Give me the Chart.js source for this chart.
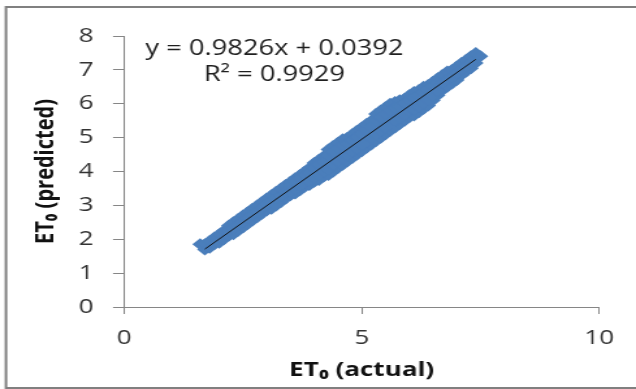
<!DOCTYPE html>
<html>
<head>
<meta charset="utf-8">
<script src="https://cdn.jsdelivr.net/npm/chart.js@4"></script>
<style>
  html, body { margin: 0; padding: 0; background: #fff; overflow: hidden; }
  /* the reference picture is stretched sideways, so the chart is too */
  #wrap { width: 489px; height: 389px; transform: scaleX(1.3006); transform-origin: 0 0; }
</style>
</head>
<body>
<div id="wrap"><canvas id="etChart"></canvas></div>
<script>
    var actualX = [1.6, 1.7, 1.7, 1.8, 1.8, 1.9, 1.9, 2.0, 2.0, 2.1, 2.1, 2.2, 2.2, 2.3, 2.3,
        2.4, 2.4, 2.5, 2.5, 2.6, 2.6, 2.7, 2.7, 2.8, 2.8, 2.9, 2.9, 3.0, 3.0, 3.1, 3.1,
        3.2, 3.2, 3.3, 3.3, 3.4, 3.4, 3.5, 3.5, 3.5, 3.6, 3.6, 3.6, 3.7, 3.7, 3.7,
        3.8, 3.8, 3.8, 3.9, 3.9, 3.9, 4.0, 4.0, 4.0, 4.1, 4.1, 4.1, 4.2, 4.2, 4.2,
        4.3, 4.3, 4.3, 4.4, 4.4, 4.4, 4.5, 4.5, 4.5, 4.6, 4.6, 4.6, 4.7, 4.7, 4.7,
        4.8, 4.8, 4.8, 4.9, 4.9, 4.9, 5.0, 5.0, 5.0, 5.1, 5.1, 5.1, 5.2, 5.2, 5.2,
        5.3, 5.3, 5.3, 5.4, 5.4, 5.4, 5.5, 5.5, 5.5, 5.6, 5.6, 5.6, 5.7, 5.7, 5.7,
        5.8, 5.8, 5.8, 5.9, 5.9, 5.9, 6.0, 6.0, 6.0, 6.1, 6.1, 6.1, 6.2, 6.2, 6.2,
        6.3, 6.3, 6.3, 6.4, 6.4, 6.4, 6.5, 6.5, 6.5, 6.6, 6.6, 6.6,
        6.7, 6.7, 6.8, 6.8, 6.9, 6.9, 7.0, 7.0, 7.1, 7.1, 7.2, 7.2, 7.3, 7.3, 7.4, 7.4, 7.5,
        2.2, 2.3, 2.4, 2.5, 2.6, 2.7, 2.8, 2.9, 3.0, 3.1, 3.2, 3.3, 3.4,
        3.5, 3.5, 3.6, 3.6, 3.7, 3.7, 3.8, 3.8, 3.9, 3.9, 4.0, 4.0, 4.1, 4.1, 4.2, 4.2,
        4.3, 4.3, 4.4, 4.4, 4.5, 4.5, 4.6, 4.6, 4.7, 4.7, 4.8, 4.8, 4.9, 4.9, 5.0, 5.0,
        5.1, 5.1, 5.2, 5.2, 5.3, 5.3, 5.4, 5.4, 5.5, 5.5, 5.6, 5.6, 5.7, 5.7, 5.8, 5.8,
        5.9, 5.9, 6.0, 6.0, 6.1, 6.1, 6.2, 6.2, 6.3, 6.3, 6.4, 6.4, 6.5, 6.5, 6.6, 6.6,
        6.7, 6.8, 6.9, 7.0, 7.1, 7.2, 7.3];
    var predictedY = [1.85, 1.70, 1.85, 1.75, 1.95, 1.85, 2.05, 1.90, 2.15, 2.00, 2.25, 2.10, 2.40, 2.15, 2.50,
        2.25, 2.60, 2.35, 2.70, 2.45, 2.80, 2.55, 2.90, 2.65, 3.00, 2.75, 3.10, 2.85, 3.20, 2.90, 3.30,
        3.00, 3.40, 3.10, 3.50, 3.20, 3.60, 3.30, 3.70, 3.50, 3.35, 3.80, 3.60, 3.45, 3.90, 3.70,
        3.55, 4.00, 3.80, 3.60, 4.10, 3.85, 3.70, 4.25, 3.95, 3.75, 4.35, 4.05, 3.85, 4.45, 4.15,
        3.90, 4.65, 4.25, 4.00, 4.75, 4.40, 4.10, 4.85, 4.50, 4.20, 4.95, 4.60, 4.30, 5.00, 4.65,
        4.40, 5.10, 4.75, 4.50, 5.20, 4.85, 4.60, 5.30, 4.95, 4.70, 5.40, 5.05, 4.80, 5.50, 5.15,
        4.90, 5.70, 5.30, 5.00, 5.80, 5.40, 5.10, 5.90, 5.50, 5.20, 6.00, 5.60, 5.30, 6.05, 5.70,
        5.40, 6.10, 5.75, 5.50, 6.15, 5.85, 5.60, 6.25, 5.95, 5.65, 6.35, 6.00, 5.75, 6.40, 6.10,
        5.85, 6.50, 6.20, 5.95, 6.55, 6.30, 6.10, 6.65, 6.40, 6.25, 6.75, 6.50,
        6.40, 6.85, 6.50, 6.95, 6.60, 7.00, 6.70, 7.10, 6.85, 7.20, 6.95, 7.30, 7.05, 7.40, 7.20, 7.50, 7.40,
        2.25, 2.32, 2.42, 2.52, 2.62, 2.72, 2.82, 2.92, 3.02, 3.10, 3.20, 3.30, 3.40,
        3.40, 3.60, 3.48, 3.70, 3.58, 3.80, 3.68, 3.90, 3.72, 3.98, 3.82, 4.10, 3.90, 4.20, 4.00, 4.30,
        4.08, 4.45, 4.20, 4.58, 4.30, 4.68, 4.40, 4.78, 4.48, 4.82, 4.58, 4.92, 4.68, 5.02, 4.78, 5.12,
        4.88, 5.22, 4.98, 5.32, 5.10, 5.50, 5.20, 5.60, 5.30, 5.70, 5.40, 5.80, 5.50, 5.88, 5.58, 5.92,
        5.68, 6.00, 5.78, 6.10, 5.82, 6.18, 5.92, 6.25, 6.02, 6.35, 6.12, 6.42, 6.25, 6.52, 6.38, 6.62,
        6.62, 6.72, 6.80, 6.90, 7.02, 7.12, 7.22];

    // linear trendline end points
    var trendX = [1.7, 7.4];
    var trendY = [1.71, 7.31];
    var equationLines = ['y = 0.9826x + 0.0392', 'R\u00b2 = 0.9929'];

    var xTicks = [0, 5, 10];
    var yTicks = [0, 1, 2, 3, 4, 5, 6, 7, 8];

    var points = actualX.map(function (x, i) { return { x: x, y: predictedY[i] }; });
    var trend = trendX.map(function (x, i) { return { x: x, y: trendY[i] }; });

    var frame = {
        id: 'frame',
        beforeDraw: function (chart) {
            var c = chart.ctx;
            c.save();
            c.fillStyle = '#fff';
            c.fillRect(0, 0, chart.width, chart.height);
            c.strokeStyle = '#808080';
            c.lineWidth = 2;
            c.strokeRect(4.6, 7, 520, 381);
            c.restore();
        },
        afterDraw: function (chart) {
            var c = chart.ctx;
            c.save();
            c.font = '21px "Open Sans"';
            c.fillStyle = '#1f1f1f';
            c.textAlign = 'center';
            c.textBaseline = 'middle';
            c.fillText(equationLines[0], 211, 49);
            c.fillText(equationLines[1], 211, 75);
            c.restore();
        }
    };

    var ctx = document.getElementById('etChart').getContext('2d');
    var etChart = new Chart(ctx, {
        type: 'scatter',
        data: {
            datasets: [{
                data: points,
                order: 2,
                pointStyle: 'rectRot',
                pointRadius: 6,
                backgroundColor: '#4a7ebb',
                borderColor: '#4a7ebb',
                borderWidth: 0
            }, {
                type: 'line',
                data: trend,
                order: 1,
                borderColor: '#111',
                borderWidth: 1,
                pointRadius: 0,
                fill: false
            }]
        },
        options: {
            responsive: true,
            maintainAspectRatio: false,
            animation: false,
            events: [],
            layout: { padding: { left: 0, right: 28.2, top: 36, bottom: 0 } },
            plugins: { legend: { display: false }, tooltip: { enabled: false } },
            scales: {
                x: {
                    type: 'linear',
                    min: 0,
                    max: 10,
                    afterBuildTicks: function (s) { s.ticks = xTicks.map(function (v) { return { value: v }; }); },
                    afterFit: function (s) { s.height = 82; },
                    grid: { drawOnChartArea: false, tickLength: 7, color: '#868686' },
                    border: { color: '#868686', width: 1 },
                    ticks: { padding: 12, color: '#333', font: { family: 'Open Sans', size: 20 } },
                    title: {
                        display: true,
                        text: 'ET\u2080 (actual)',
                        color: '#111',
                        font: { family: 'Open Sans', size: 20, weight: 'bold' },
                        padding: { top: 0, bottom: 7 }
                    }
                },
                y: {
                    min: 0,
                    max: 8,
                    afterBuildTicks: function (s) { s.ticks = yTicks.map(function (v) { return { value: v }; }); },
                    afterFit: function (s) { s.width = 95.4; },
                    grid: { drawOnChartArea: false, tickLength: 8.5, color: '#868686' },
                    border: { color: '#868686', width: 1 },
                    ticks: { padding: 15, color: '#333', font: { family: 'Open Sans', size: 20 } },
                    title: {
                        display: true,
                        text: 'ET\u2080 (predicted)',
                        color: '#111',
                        font: { family: 'Open Sans', size: 20, weight: 'bold' },
                        padding: { top: 23, bottom: 0 }
                    }
                }
            }
        },
        plugins: [frame]
    });
</script>
</body>
</html>
